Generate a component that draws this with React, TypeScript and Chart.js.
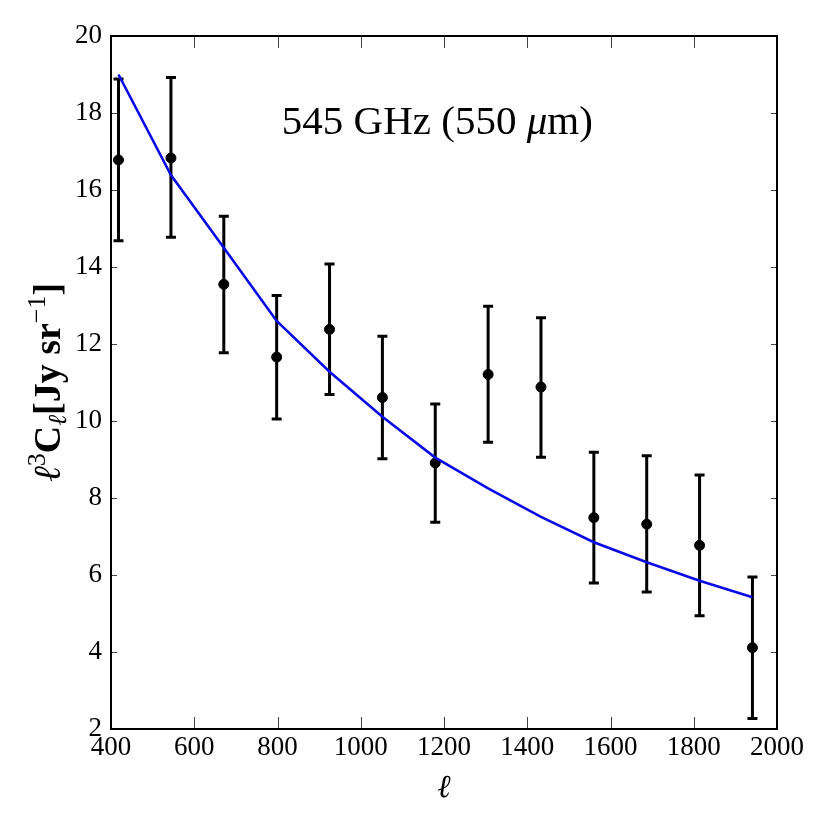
import React, { useEffect, useRef } from 'react';
import { Chart, registerables } from 'chart.js';

Chart.register(...registerables);

// multipole centres of the band powers
const ells = [418, 544, 671, 798, 925, 1052, 1179, 1306, 1433, 1560, 1687, 1814, 1941];
// measured l^3 C_l
const measured = [16.78, 16.83, 13.55, 11.66, 12.38, 10.61, 8.91, 11.21, 10.88, 7.49, 7.32, 6.77, 4.11];
const upper = [18.88, 18.92, 15.32, 13.26, 14.08, 12.2, 10.44, 12.98, 12.68, 9.19, 9.1, 8.6, 5.95];
const lower = [14.68, 14.77, 11.77, 10.05, 10.69, 9.02, 7.37, 9.45, 9.06, 5.79, 5.56, 4.94, 2.27];
// best-fit model at the same ells
const model = [19.0, 16.39, 14.5, 12.6, 11.28, 10.11, 9.05, 8.25, 7.51, 6.85, 6.33, 5.85, 5.42];

const xTicks = [400, 600, 800, 1000, 1200, 1400, 1600, 1800, 2000];
const yTicks = [2, 4, 6, 8, 10, 12, 14, 16, 18, 20];

const SERIF = '"Liberation Serif", "DejaVu Serif", serif';

type Seg = { text: string; font: string; dy?: number };

// draws a run of differently styled text pieces centred on x=0, baseline y=0
const drawRich = (ctx: CanvasRenderingContext2D, segs: Seg[]) => {
  let total = 0;
  const widths = segs.map((s) => {
    ctx.font = s.font;
    const w = ctx.measureText(s.text).width;
    total += w;
    return w;
  });
  let x = -total / 2;
  ctx.textBaseline = 'alphabetic';
  ctx.textAlign = 'left';
  segs.forEach((s, i) => {
    ctx.font = s.font;
    ctx.fillText(s.text, x, s.dy || 0);
    x += widths[i];
  });
};

const errorBars = {
  id: 'errorBars',
  beforeDatasetsDraw(chart: any) {
    const { ctx, scales } = chart;
    const xs = scales.x;
    const ys = scales.y;
    ctx.save();
    ctx.strokeStyle = '#000';
    ctx.lineWidth = 3;
    ells.forEach((l, i) => {
      const px = xs.getPixelForValue(l);
      const top = ys.getPixelForValue(upper[i]);
      const bot = ys.getPixelForValue(lower[i]);
      ctx.beginPath();
      ctx.moveTo(px, top);
      ctx.lineTo(px, bot);
      ctx.moveTo(px - 5, top);
      ctx.lineTo(px + 5, top);
      ctx.moveTo(px - 5, bot);
      ctx.lineTo(px + 5, bot);
      ctx.stroke();
    });
    ctx.restore();
  },
};

const frame = {
  id: 'frame',
  afterDraw(chart: any) {
    const { ctx, chartArea: a, scales } = chart;
    ctx.save();
    ctx.strokeStyle = '#444';
    ctx.lineWidth = 1;
    ctx.beginPath();
    xTicks.forEach((v) => {
      const px = Math.round(scales.x.getPixelForValue(v)) + 0.5;
      ctx.moveTo(px, a.bottom);
      ctx.lineTo(px, a.bottom - 12);
      ctx.moveTo(px, a.top);
      ctx.lineTo(px, a.top + 12);
    });
    yTicks.forEach((v) => {
      const py = Math.round(scales.y.getPixelForValue(v)) + 0.5;
      ctx.moveTo(a.left, py);
      ctx.lineTo(a.left + 6, py);
      ctx.moveTo(a.right, py);
      ctx.lineTo(a.right - 6, py);
    });
    ctx.stroke();
    ctx.strokeStyle = '#000';
    ctx.lineWidth = 2;
    ctx.strokeRect(a.left, a.top, a.right - a.left, a.bottom - a.top);

    ctx.fillStyle = '#000';
    // panel label
    ctx.save();
    ctx.translate(a.left + (a.right - a.left) * 0.49, a.top + 98);
    drawRich(ctx, [
      { text: '545 GHz (550 ', font: `41px ${SERIF}` },
      { text: 'μ', font: `italic 41px ${SERIF}` },
      { text: 'm)', font: `41px ${SERIF}` },
    ]);
    ctx.restore();

    // y-axis label
    ctx.save();
    ctx.translate(60, (a.top + a.bottom) / 2);
    ctx.rotate(-Math.PI / 2);
    drawRich(ctx, [
      { text: 'ℓ', font: `italic 38px ${SERIF}` },
      { text: '3', font: `26px ${SERIF}`, dy: -15 },
      { text: 'C', font: `bold 38px ${SERIF}` },
      { text: 'ℓ', font: `italic 26px ${SERIF}`, dy: 6 },
      { text: '[Jy sr', font: `bold 38px ${SERIF}` },
      { text: '−1', font: `26px ${SERIF}`, dy: -15 },
      { text: ']', font: `bold 38px ${SERIF}` },
    ]);
    ctx.restore();
    ctx.restore();
  },
};

const App: React.FC = () => {
  const canvasRef = useRef<HTMLCanvasElement>(null);
  const chartRef = useRef<Chart | null>(null);

  useEffect(() => {
    if (!canvasRef.current) return;
    if (chartRef.current) chartRef.current.destroy();

    chartRef.current = new Chart(canvasRef.current, {
      type: 'scatter',
      data: {
        datasets: [
          {
            label: 'model',
            data: ells.map((l, i) => ({ x: l, y: model[i] })),
            showLine: true,
            borderColor: '#0a0ae6',
            borderWidth: 2.6,
            pointRadius: 0,
            tension: 0,
            order: 0,
          },
          {
            label: 'data',
            data: ells.map((l, i) => ({ x: l, y: measured[i] })),
            backgroundColor: '#000',
            borderColor: '#000',
            pointRadius: 5,
            order: 1,
          },
        ],
      },
      options: {
        animation: false,
        responsive: true,
        maintainAspectRatio: false,
        layout: { padding: { top: 36, right: 53, left: 0, bottom: 0 } },
        plugins: {
          legend: { display: false },
          tooltip: { enabled: false },
        },
        scales: {
          x: {
            type: 'linear',
            min: 400,
            max: 2000,
            afterFit: (s: any) => {
              s.height = 101;
            },
            afterBuildTicks: (s: any) => {
              s.ticks = xTicks.map((v) => ({ value: v }));
            },
            grid: { display: false, drawTicks: false },
            border: { display: false },
            ticks: {
              autoSkip: false,
              maxRotation: 0,
              padding: 3,
              color: '#000',
              font: { family: SERIF, size: 27 },
              callback: (v: any) => String(v),
            },
            title: {
              display: true,
              text: 'ℓ',
              color: '#000',
              font: { family: SERIF, size: 32, style: 'italic' },
              padding: { top: 0, bottom: 22 },
            },
          },
          y: {
            type: 'linear',
            min: 2,
            max: 20,
            afterFit: (s: any) => {
              s.width = 111;
            },
            afterBuildTicks: (s: any) => {
              s.ticks = yTicks.map((v) => ({ value: v }));
            },
            grid: { display: false, drawTicks: false },
            border: { display: false },
            ticks: {
              autoSkip: false,
              padding: 9,
              color: '#000',
              font: { family: SERIF, size: 27 },
              callback: (v: any) => String(v),
            },
          },
        },
      },
      plugins: [errorBars, frame],
    });

    return () => {
      if (chartRef.current) {
        chartRef.current.destroy();
        chartRef.current = null;
      }
    };
  }, []);

  return (
    <div style={{ position: 'fixed', left: 0, top: 0, width: 830, height: 830, background: '#fff' }}>
      <canvas ref={canvasRef} />
    </div>
  );
};

export default App;
